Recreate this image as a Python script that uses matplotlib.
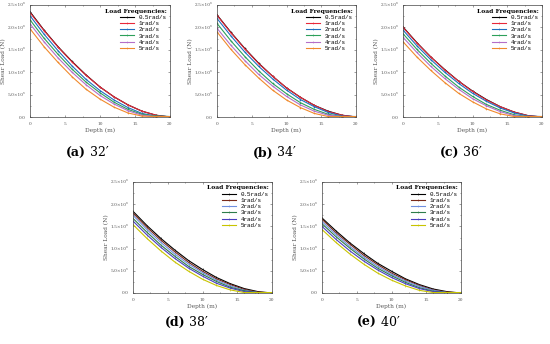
import numpy as np
import matplotlib.pyplot as plt

# depth (m), step 2
depth = [0, 2, 4, 6, 8, 10, 12, 14, 16, 18, 20]
freqs = ['0.5rad/s', '1rad/s', '2rad/s', '3rad/s', '4rad/s', '5rad/s']

# shear load in 1e6 N, one list per load frequency
load_32 = [
    [2.35, 1.94, 1.57, 1.24, 0.94, 0.67, 0.45, 0.27, 0.13, 0.04, 0.00],
    [2.33, 1.93, 1.56, 1.23, 0.93, 0.67, 0.45, 0.27, 0.13, 0.04, 0.00],
    [2.26, 1.85, 1.48, 1.14, 0.84, 0.59, 0.38, 0.21, 0.08, 0.02, 0.01],
    [2.17, 1.76, 1.40, 1.07, 0.78, 0.54, 0.33, 0.17, 0.06, 0.02, 0.01],
    [2.08, 1.68, 1.32, 1.00, 0.72, 0.48, 0.29, 0.14, 0.04, 0.01, 0.01],
    [1.97, 1.57, 1.22, 0.90, 0.62, 0.40, 0.22, 0.09, 0.02, 0.01, 0.01],
]
load_34 = [
    [2.28, 1.89, 1.53, 1.20, 0.91, 0.65, 0.44, 0.26, 0.13, 0.04, 0.00],
    [2.27, 1.88, 1.52, 1.19, 0.91, 0.65, 0.44, 0.26, 0.12, 0.04, 0.00],
    [2.20, 1.81, 1.45, 1.13, 0.85, 0.60, 0.39, 0.23, 0.10, 0.02, 0.01],
    [2.09, 1.70, 1.35, 1.03, 0.75, 0.52, 0.32, 0.17, 0.06, 0.01, 0.01],
    [1.98, 1.60, 1.26, 0.95, 0.69, 0.46, 0.27, 0.13, 0.04, 0.01, 0.01],
    [1.90, 1.51, 1.17, 0.87, 0.60, 0.38, 0.21, 0.08, 0.01, 0.01, 0.01],
]
load_36 = [
    [2.01, 1.66, 1.34, 1.06, 0.80, 0.58, 0.39, 0.23, 0.11, 0.03, 0.00],
    [2.00, 1.65, 1.34, 1.05, 0.80, 0.57, 0.38, 0.23, 0.11, 0.03, 0.00],
    [1.94, 1.59, 1.28, 1.00, 0.75, 0.53, 0.35, 0.20, 0.09, 0.02, 0.01],
    [1.86, 1.51, 1.20, 0.92, 0.67, 0.46, 0.28, 0.15, 0.05, 0.01, 0.01],
    [1.78, 1.44, 1.13, 0.86, 0.62, 0.41, 0.25, 0.12, 0.03, 0.01, 0.01],
    [1.68, 1.34, 1.04, 0.77, 0.53, 0.34, 0.18, 0.07, 0.01, 0.01, 0.01],
]
load_38 = [
    [1.84, 1.52, 1.23, 0.97, 0.73, 0.53, 0.35, 0.21, 0.10, 0.03, 0.00],
    [1.80, 1.48, 1.19, 0.93, 0.69, 0.49, 0.32, 0.19, 0.08, 0.02, 0.00],
    [1.75, 1.43, 1.14, 0.88, 0.65, 0.46, 0.29, 0.16, 0.06, 0.01, 0.01],
    [1.68, 1.37, 1.08, 0.83, 0.60, 0.42, 0.26, 0.13, 0.05, 0.01, 0.01],
    [1.62, 1.31, 1.03, 0.78, 0.56, 0.38, 0.22, 0.11, 0.03, 0.01, 0.01],
    [1.54, 1.23, 0.95, 0.70, 0.49, 0.31, 0.17, 0.07, 0.01, 0.01, 0.01],
]
load_40 = [
    [1.69, 1.40, 1.13, 0.89, 0.67, 0.49, 0.32, 0.19, 0.09, 0.03, 0.00],
    [1.66, 1.36, 1.10, 0.85, 0.64, 0.45, 0.30, 0.17, 0.07, 0.02, 0.00],
    [1.61, 1.32, 1.05, 0.81, 0.60, 0.42, 0.27, 0.15, 0.06, 0.01, 0.01],
    [1.56, 1.27, 1.01, 0.77, 0.56, 0.39, 0.24, 0.12, 0.04, 0.01, 0.01],
    [1.50, 1.21, 0.95, 0.72, 0.52, 0.35, 0.21, 0.10, 0.03, 0.01, 0.01],
    [1.43, 1.14, 0.88, 0.65, 0.45, 0.29, 0.16, 0.06, 0.01, 0.01, 0.01],
]

ytick_vals = [0, 0.5e6, 1.0e6, 1.5e6, 2.0e6, 2.5e6]
ytick_labels = ['0.0', '5.0×10⁵', '1.0×10⁶', '1.5×10⁶', '2.0×10⁶', '2.5×10⁶']

colors_top = ['#000000', '#e8283a', '#1f6fc0', '#2ca05a', '#b46fc8', '#f08a2c']
colors_bot = ['#000000', '#7a2a1a', '#6f8fdf', '#2e7d4a', '#4b3fbf', '#c8c400']

plt.rcParams['font.family'] = ['DejaVu Serif']

fig = plt.figure(figsize=(5.5, 3.44), dpi=100)


def panel(rect, data, colors, marker, caption_tag, caption_txt, cap_xy):
    ax = fig.add_axes(rect)
    for vals, c, lab in zip(data, colors, freqs):
        ax.plot(depth, np.array(vals) * 1e6, color=c, lw=0.8, marker=marker,
                ms=1.8, mew=0.4, label=lab)
    ax.set_xlim(0, 20)
    ax.set_ylim(0, 2.5e6)
    ax.set_xticks([0, 5, 10, 15, 20])
    ax.set_xticks([2.5, 7.5, 12.5, 17.5], minor=True)
    ax.set_yticks(ytick_vals)
    ax.set_yticklabels(ytick_labels)
    ax.set_yticks([0.25e6, 0.75e6, 1.25e6, 1.75e6, 2.25e6], minor=True)
    ax.tick_params(which='both', direction='in', top=True, right=True,
                   labelsize=3.2, colors='#555555', length=1.5, width=0.4)
    ax.tick_params(which='minor', length=0.8)
    for s in ax.spines.values():
        s.set_linewidth(0.5)
        s.set_color('#444444')
    ax.set_xlabel('Depth (m)', fontsize=4.2, color='#555555', labelpad=1)
    ax.set_ylabel('Shear Load (N)', fontsize=4.2, color='#555555', labelpad=1)
    leg = ax.legend(loc='upper right', frameon=False,
                    prop={'family': 'Liberation Mono', 'size': 4.2},
                    title='Load Frequencies:', handlelength=2.4,
                    labelspacing=0.2, borderaxespad=0.2, alignment='right')
    leg.get_title().set_fontsize(4.3)
    leg.get_title().set_fontweight('bold')
    fig.text(cap_xy[0] / 550, 1 - cap_xy[1] / 344, caption_tag,
             fontsize=9, fontweight='bold', ha='right', va='center')
    fig.text(cap_xy[0] / 550, 1 - cap_xy[1] / 344, ' ' + caption_txt,
             fontsize=9, ha='left', va='center')
    return ax


panel([30 / 550, 227 / 344, 140 / 550, 112 / 344], load_32, colors_top, '+', '(a)', '32′', (86, 153))
panel([217 / 550, 227 / 344, 139 / 550, 112 / 344], load_34, colors_top, '+', '(b)', '34′', (273, 153))
panel([403 / 550, 227 / 344, 139 / 550, 112 / 344], load_36, colors_top, '+', '(c)', '36′', (459, 153))
panel([133 / 550, 51 / 344, 139 / 550, 111 / 344], load_38, colors_bot, '|', '(d)', '38′', (185, 322))
panel([322 / 550, 51 / 344, 139 / 550, 111 / 344], load_40, colors_bot, '|', '(e)', '40′', (377, 322))

fig.savefig('out.png', dpi=100)
